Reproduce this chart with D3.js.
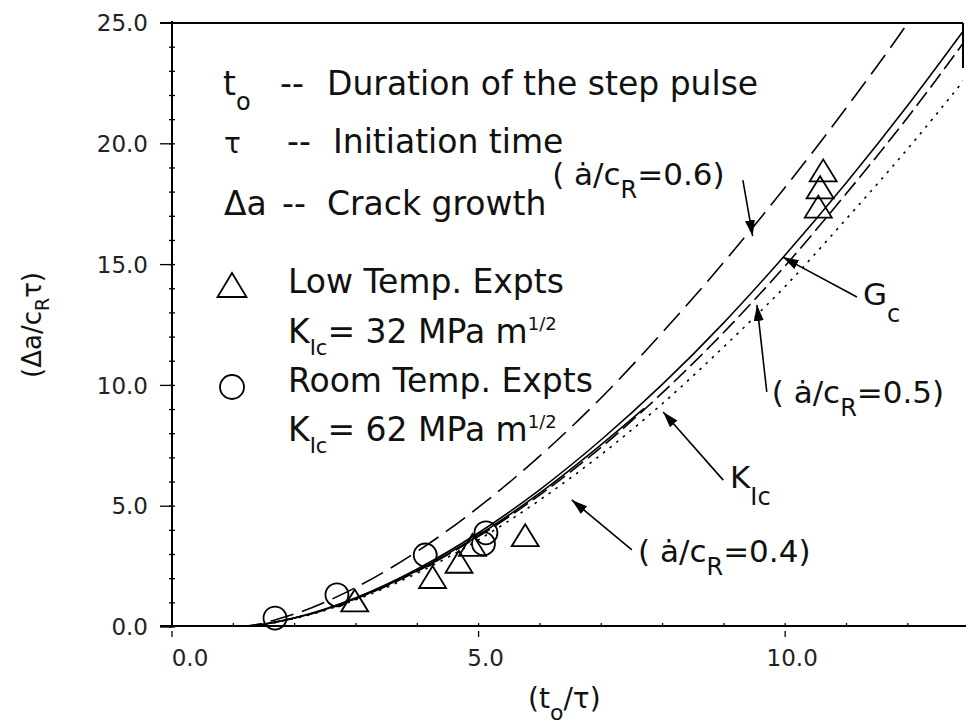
<!DOCTYPE html>
<html>
<head>
<meta charset="utf-8">
<script src="https://cdn.jsdelivr.net/npm/d3@7/dist/d3.min.js"></script>
<style>
    body { margin: 0; background: #fff; }
    text { font-family: "DejaVu Sans", sans-serif; fill: #111; }
    .frame-line { stroke: #000; stroke-width: 2; fill: none; }
    .tick-line { stroke: #000; stroke-width: 1.3; }
    .tick-label { font-size: 23px; fill: #222; }
    .curve { fill: none; stroke: #000; stroke-width: 1.6; }
    .marker-shape { fill: none; stroke: #000; stroke-width: 1.8; }
    .legend-text { font-size: 33px; }
    .note-text { font-size: 31px; }
    .note-arrow { stroke: #000; stroke-width: 1.6; }
</style>
</head>
<body>
<div id="chart"></div>
<script>
// theory curves, sampled at curveX (t_o / tau)
const curveX = [0, 1, 2, 3, 4, 5, 6, 7, 8, 9, 10, 11, 12, 13];
const speed06 = [0, 0, 0.54, 1.64, 3.13, 4.96, 7.08, 9.49, 12.2, 15.1, 18.2, 21.5, 25.0, 28.8];
const gcCurve = [0, 0, 0.38, 1.21, 2.40, 3.90, 5.69, 7.75, 10.05, 12.6, 15.4, 18.4, 21.6, 25.0];
const speed05 = [0, 0, 0.37, 1.17, 2.31, 3.75, 5.47, 7.44, 9.7, 12.2, 14.95, 17.95, 21.1, 24.5];
const speed04 = [0, 0, 0.35, 1.13, 2.23, 3.61, 5.26, 7.14, 9.25, 11.6, 14.1, 16.9, 19.8, 22.9];
const kicX = [0, 1, 2, 3, 4, 5, 6, 7, 7.7];
const kicCurve = [0, 0, 0.37, 1.18, 2.34, 3.8, 5.55, 7.55, 9.05];

// experiments
const lowTempX = [2.98, 4.25, 4.68, 4.9, 5.76, 10.54, 10.57, 10.62];
const lowTempY = [1.1, 2.07, 2.7, 3.4, 3.8, 17.4, 18.2, 18.9];
const roomTempX = [1.68, 2.69, 4.13, 5.08, 5.12];
const roomTempY = [0.37, 1.33, 2.98, 3.45, 3.9];

// axes
const xMajorTicks = [0, 5, 10];
const xTickLabels = ['0.0', '5.0', '10.0'];
const xLabelShift = [18, 7, 7];
const yMajorTicks = [0, 5, 10, 15, 20, 25];
const yTickLabels = ['0.0', '5.0', '10.0', '15.0', '20.0', '25.0'];

class CrackChart {
    constructor(containerId, options = {}) {
        this.containerId = containerId;
        this.options = {
            width: options.width || 966,
            height: options.height || 725,
            left: options.left || 172,
            right: options.right || 963,
            top: options.top || 23,
            bottom: options.bottom || 627
        };
        this.init();
    }

    init() {
        const o = this.options;
        this.svg = d3.select(`#${this.containerId}`)
            .append('svg')
            .attr('width', o.width)
            .attr('height', o.height);

        this.x = d3.scaleLinear().domain([0, 12.9]).range([o.left, o.right]);
        this.y = d3.scaleLinear().domain([0, 25]).range([o.bottom, o.top]);

        this.svg.append('defs').append('clipPath')
            .attr('id', 'plot-clip')
            .append('rect')
            .attr('x', o.left)
            .attr('y', o.top - 2)
            .attr('width', o.right - o.left)
            .attr('height', o.bottom - o.top + 2);

        this.svg.select('defs').append('marker')
            .attr('id', 'arrow')
            .attr('viewBox', '0 0 16 10')
            .attr('refX', 16)
            .attr('refY', 5)
            .attr('markerWidth', 16)
            .attr('markerHeight', 10)
            .attr('markerUnits', 'userSpaceOnUse')
            .attr('orient', 'auto')
            .append('path')
            .attr('d', 'M0,0 L16,5 L0,10 Z')
            .attr('fill', '#000');

        this.drawFrame();
        this.drawTicks();
        this.drawCurves();
        this.drawPoints();
        this.drawLegend();
        this.drawNotes();
    }

    drawFrame() {
        const o = this.options;
        this.svg.append('line').attr('class', 'frame-line')
            .attr('x1', o.left).attr('y1', o.top - 2).attr('x2', o.left).attr('y2', o.bottom);
        this.svg.append('line').attr('class', 'frame-line')
            .attr('x1', o.left - 12).attr('y1', o.bottom - 1).attr('x2', o.width).attr('y2', o.bottom - 1);
        this.svg.append('line').attr('class', 'frame-line')
            .attr('x1', o.left - 12).attr('y1', o.top).attr('x2', o.right).attr('y2', o.top);
        this.svg.append('line').attr('class', 'frame-line')
            .attr('x1', o.right).attr('y1', o.top).attr('x2', o.right).attr('y2', o.top + 45);

        // axis titles
        const yTitle = this.svg.append('text')
            .attr('transform', `translate(41,${(o.top + o.bottom) / 2}) rotate(-90)`)
            .attr('text-anchor', 'middle')
            .style('font-size', '26px');
        yTitle.append('tspan').text('(Δa/c');
        yTitle.append('tspan').attr('dy', 8).style('font-size', '19px').text('R');
        yTitle.append('tspan').attr('dy', -8).text('τ)');

        const xTitle = this.svg.append('text')
            .attr('x', 528)
            .attr('y', 708)
            .style('font-size', '28px');
        xTitle.append('tspan').text('(t');
        xTitle.append('tspan').attr('dy', 12).style('font-size', '22px').text('o');
        xTitle.append('tspan').attr('dy', -12).text('/τ)');
    }

    drawTicks() {
        const o = this.options;
        const minorY = d3.range(0, 26, 1);
        const minorX = d3.range(0, 13, 1);

        this.svg.selectAll('.y-minor')
            .data(minorY)
            .enter().append('line')
            .attr('class', 'tick-line')
            .attr('x1', o.left - 3).attr('x2', o.left + 3)
            .attr('y1', d => this.y(d)).attr('y2', d => this.y(d));

        this.svg.selectAll('.x-minor')
            .data(minorX)
            .enter().append('line')
            .attr('class', 'tick-line')
            .attr('x1', d => this.x(d)).attr('x2', d => this.x(d))
            .attr('y1', o.bottom - 4).attr('y2', o.bottom);

        this.svg.selectAll('.y-major')
            .data(yMajorTicks)
            .enter().append('line')
            .attr('class', 'tick-line')
            .attr('x1', o.left - 12).attr('x2', o.left)
            .attr('y1', d => this.y(d)).attr('y2', d => this.y(d));

        this.svg.selectAll('.y-label')
            .data(yMajorTicks)
            .enter().append('text')
            .attr('class', 'tick-label')
            .attr('x', o.left - 24)
            .attr('y', d => this.y(d))
            .attr('dy', '0.36em')
            .attr('text-anchor', 'end')
            .text((d, i) => yTickLabels[i]);

        this.svg.selectAll('.x-major')
            .data(xMajorTicks)
            .enter().append('line')
            .attr('class', 'tick-line')
            .attr('x1', d => this.x(d)).attr('x2', d => this.x(d))
            .attr('y1', o.bottom + 4).attr('y2', o.bottom + 10);

        this.svg.selectAll('.x-label')
            .data(xMajorTicks)
            .enter().append('text')
            .attr('class', 'tick-label')
            .attr('x', (d, i) => this.x(d) + xLabelShift[i])
            .attr('y', o.bottom + 39)
            .attr('text-anchor', 'middle')
            .text((d, i) => xTickLabels[i]);
    }

    drawCurves() {
        const line = d3.line()
            .x(d => this.x(d[0]))
            .y(d => this.y(d[1]))
            .curve(d3.curveMonotoneX);

        const plot = this.svg.append('g').attr('clip-path', 'url(#plot-clip)');
        const series = [
            { xs: curveX, ys: speed06, dash: '24,9', width: 1.6 },
            { xs: curveX, ys: gcCurve, dash: null, width: 1.6 },
            { xs: curveX, ys: speed05, dash: '17,6', width: 1.6 },
            { xs: curveX, ys: speed04, dash: '2.5,6', width: 2.2 },
            { xs: kicX, ys: kicCurve, dash: null, width: 2.6 }
        ];

        series.forEach(s => {
            plot.append('path')
                .attr('class', 'curve')
                .attr('d', line(s.xs.map((v, i) => [v, s.ys[i]])))
                .attr('stroke-dasharray', s.dash)
                .attr('stroke-width', s.width);
        });
    }

    triangle(cx, cy, w, h) {
        return `M${cx - w / 2},${cy + h / 2} L${cx + w / 2},${cy + h / 2} L${cx},${cy - h / 2} Z`;
    }

    drawPoints() {
        lowTempX.forEach((v, i) => {
            this.svg.append('path')
                .attr('class', 'marker-shape')
                .attr('d', this.triangle(this.x(v), this.y(lowTempY[i]), 27, 22));
        });
        roomTempX.forEach((v, i) => {
            this.svg.append('circle')
                .attr('class', 'marker-shape')
                .attr('cx', this.x(v))
                .attr('cy', this.y(roomTempY[i]))
                .attr('r', 11.5);
        });
    }

    drawLegend() {
        const g = this.svg.append('g').attr('class', 'legend-text');

        const row = (x, y) => g.append('text').attr('x', x).attr('y', y);

        let t = row(223, 95);
        t.append('tspan').text('t');
        t.append('tspan').attr('dy', 15).style('font-size', '24px').text('o');
        row(280, 95).text('--');
        row(327, 95).text('Duration of the step pulse');

        row(224, 153).style('font-size', '28px').text('τ');
        row(287, 153).text('--');
        row(333, 153).text('Initiation time');

        row(224, 215).text('Δa');
        row(282, 215).text('--');
        row(327, 215).text('Crack growth');

        g.append('path')
            .attr('class', 'marker-shape')
            .attr('d', this.triangle(232, 285, 29, 24));
        row(288, 293).text('Low Temp. Expts');
        this.kicLine(g, 288, 343, '32');

        g.append('circle')
            .attr('class', 'marker-shape')
            .attr('cx', 232).attr('cy', 387).attr('r', 12);
        row(288, 392).text('Room Temp. Expts');
        this.kicLine(g, 288, 441, '62');
    }

    kicLine(g, x, y, value) {
        const t = g.append('text').attr('x', x).attr('y', y);
        t.append('tspan').text('K');
        t.append('tspan').attr('dy', 12).style('font-size', '21px').text('Ic');
        t.append('tspan').attr('dy', -12).text(`= ${value} MPa m`);
        t.append('tspan').attr('dy', -13).style('font-size', '18px').text('1/2');
    }

    speedLabel(px, py, value) {
        const t = this.svg.append('text')
            .attr('class', 'note-text')
            .attr('x', this.x(px))
            .attr('y', this.y(py));
        t.append('tspan').text('( ȧ/c');
        t.append('tspan').attr('dy', 13).style('font-size', '24px').text('R');
        t.append('tspan').attr('dy', -13).text(`=${value})`);
    }

    arrow(x1, y1, x2, y2) {
        this.svg.append('line')
            .attr('class', 'note-arrow')
            .attr('x1', this.x(x1)).attr('y1', this.y(y1))
            .attr('x2', this.x(x2)).attr('y2', this.y(y2))
            .attr('marker-end', 'url(#arrow)');
    }

    drawNotes() {
        this.speedLabel(6.20, 18.30, '0.6');
        this.arrow(9.31, 18.50, 9.47, 16.18);

        const gc = this.svg.append('text').attr('class', 'note-text')
            .attr('x', this.x(11.27)).attr('y', this.y(13.33));
        gc.append('tspan').text('G');
        gc.append('tspan').attr('dy', 17).style('font-size', '24px').text('c');
        this.arrow(11.17, 13.66, 9.96, 15.31);

        this.speedLabel(9.78, 9.27, '0.5');
        this.arrow(9.70, 9.73, 9.54, 13.33);

        const kic = this.svg.append('text').attr('class', 'note-text')
            .attr('x', this.x(9.10)).attr('y', this.y(5.75));
        kic.append('tspan').text('K');
        kic.append('tspan').attr('dy', 17).style('font-size', '24px').text('Ic');
        this.arrow(8.99, 6.08, 8.01, 8.90);

        this.speedLabel(7.60, 2.69, '0.4');
        this.arrow(7.50, 3.19, 6.52, 5.26);
    }
}

const chart = new CrackChart('chart', { width: 966, height: 725 });
</script>
</body>
</html>
